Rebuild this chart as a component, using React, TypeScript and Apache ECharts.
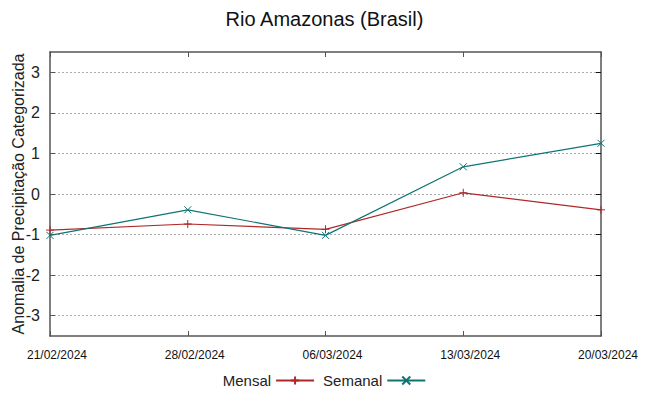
import React, { useEffect, useRef } from "react";
import * as echarts from "echarts";

const categories = ["21/02/2024", "28/02/2024", "06/03/2024", "13/03/2024", "20/03/2024"];
const mensal = [-0.89, -0.74, -0.87, 0.03, -0.39];
const semanal = [-1.02, -0.39, -1.02, 0.67, 1.25];
const yTicks = [-3, -2, -1, 0, 1, 2, 3];

const RED = "#b02828";
const TEAL = "#0e7474";
const AXIS = "#555555";

export default function App() {
  const ref = useRef<HTMLDivElement>(null);
  useEffect(() => {
    if (!ref.current) return;
    const chart = echarts.init(ref.current, undefined, { renderer: "svg" });
    const font = "Liberation Sans";
    chart.setOption({
      animation: false,
      title: {
        text: "Rio Amazonas (Brasil)",
        left: "center",
        top: 4,
        textStyle: { fontFamily: font, fontSize: 20, fontWeight: "normal", color: "#111" },
      },
      grid: { left: 50, right: 48, top: 52, bottom: 60, containLabel: false, outerBoundsMode: "none" },
      legend: {
        bottom: 3,
        left: "center",
        align: "right",
        itemWidth: 38,
        itemHeight: 10,
        itemGap: 8,
        textStyle: { fontFamily: font, fontSize: 15, color: "#222" },
        data: ["Mensal", "Semanal"],
      },
      xAxis: [
        {
          type: "category",
          data: categories,
          boundaryGap: false,
          position: "bottom",
          axisLine: { onZero: false, lineStyle: { color: AXIS, width: 1.5 } },
          axisTick: { inside: true, length: 5, lineStyle: { color: AXIS } },
          axisLabel: {
            fontFamily: font,
            fontSize: 12,
            color: "#111",
            margin: 13,
            interval: 0,
            padding: [0, 0, 0, 14],
          },
          splitLine: { show: false },
        },
        {
          type: "category",
          data: categories,
          boundaryGap: false,
          position: "top",
          axisLine: { onZero: false, lineStyle: { color: AXIS, width: 1.5 } },
          axisTick: { inside: true, length: 5, lineStyle: { color: AXIS } },
          axisLabel: { show: false },
          splitLine: { show: false },
        },
      ],
      yAxis: [
        {
          type: "value",
          min: -3.5,
          max: 3.5,
          position: "left",
          name: "Anomalia de Precipitação Categorizada",
          nameLocation: "middle",
          nameGap: 24,
          nameMoveOverlap: false,
          nameTextStyle: { fontFamily: font, fontSize: 16, color: "#222" },
          axisLine: { show: true, onZero: false, lineStyle: { color: AXIS, width: 1.5 } },
          axisTick: { show: true, inside: true, length: 5, customValues: yTicks, lineStyle: { color: AXIS } },
          axisLabel: { fontFamily: font, fontSize: 16, color: "#222", customValues: yTicks, margin: 10 },
          splitLine: { show: true, lineStyle: { color: "#aaaaaa", type: [2, 2], width: 1 } },
        },
        {
          type: "value",
          min: -3.5,
          max: 3.5,
          position: "right",
          axisLine: { show: true, onZero: false, lineStyle: { color: AXIS, width: 1.5 } },
          axisTick: { show: true, inside: true, length: 5, customValues: yTicks, lineStyle: { color: "#111" } },
          axisLabel: { show: false },
          splitLine: { show: false },
        },
      ],
      series: [
        {
          name: "Mensal",
          type: "line",
          data: mensal,
          symbol: "path://M0,5L10,5M5,0L5,10",
          symbolSize: 8,
          lineStyle: { color: RED, width: 1.2 },
          itemStyle: { color: RED, borderColor: RED, borderWidth: 1 },
        },
        {
          name: "Semanal",
          type: "line",
          data: semanal,
          symbol: "path://M0,0L10,10M0,10L10,0",
          symbolSize: 7,
          lineStyle: { color: TEAL, width: 1.2 },
          itemStyle: { color: TEAL, borderColor: TEAL, borderWidth: 1 },
        },
      ],
    });
    return () => chart.dispose();
  }, []);
  return <div ref={ref} style={{ width: 649, height: 396, position: "absolute", left: 0, top: 0 }} />;
}
